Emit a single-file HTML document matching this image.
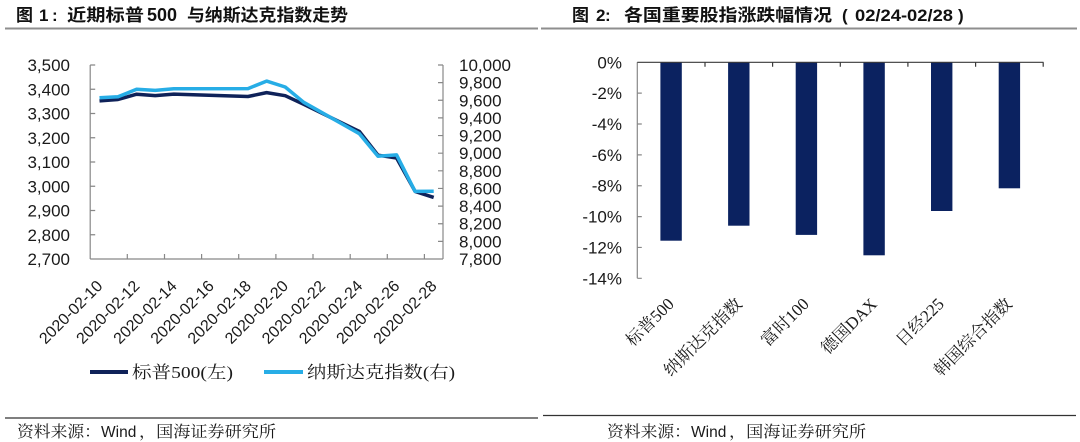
<!DOCTYPE html>
<html>
<head>
<meta charset="utf-8">
<style>
html,body{margin:0;padding:0;background:#fff;}
svg{display:block;}
.num{font-family:"Liberation Sans",Arial,sans-serif;fill:#1a1a1a;}
.ttl{font-family:"Liberation Sans","Noto Sans CJK SC",sans-serif;font-weight:bold;fill:#111;}
.ser{font-family:"Liberation Serif","Noto Serif CJK SC",serif;fill:#1a1a1a;}
</style>
</head>
<body>
<svg width="1080" height="442" viewBox="0 0 1080 442" xmlns="http://www.w3.org/2000/svg">
<rect width="1080" height="442" fill="#fff"/>

<!-- ===== Titles ===== -->
<g class="ttl" font-size="17">
  <text x="16" y="21">图</text>
  <text x="39" y="21" font-family="Liberation Sans">1</text>
  <text x="52" y="21" font-family="Liberation Sans">:</text>
  <text x="67" y="21" textLength="77" lengthAdjust="spacingAndGlyphs">近期标普</text>
  <text x="147" y="21" font-family="Liberation Sans" font-size="18">500</text>
  <text x="187" y="21" textLength="161" lengthAdjust="spacingAndGlyphs">与纳斯达克指数走势</text>

  <text x="572" y="21">图</text>
  <text x="596" y="21" font-family="Liberation Sans">2</text>
  <text x="605" y="21" font-family="Liberation Sans">:</text>
  <text x="624" y="21" textLength="208" lengthAdjust="spacingAndGlyphs">各国重要股指涨跌幅情况</text>
  <text x="842" y="21" font-family="Liberation Sans">(</text>
  <text x="855" y="21" font-family="Liberation Sans" textLength="98" lengthAdjust="spacingAndGlyphs">02/24-02/28</text>
  <text x="958" y="21" font-family="Liberation Sans">)</text>
</g>
<line x1="5" y1="28.5" x2="538" y2="28.5" stroke="#8e8e8e" stroke-width="2"/>
<line x1="541" y1="28.5" x2="1077" y2="28.5" stroke="#8e8e8e" stroke-width="2"/>

<!-- ===== Left chart ===== -->
<g stroke="#888" stroke-width="1.2" fill="none">
  <line x1="90.2" y1="65" x2="90.2" y2="259"/>
  <line x1="443" y1="65" x2="443" y2="259"/>
  <line x1="90.2" y1="259" x2="443" y2="259"/>
  <path d="M90.2 65h5M90.2 89.25h5M90.2 113.5h5M90.2 137.75h5M90.2 162h5M90.2 186.25h5M90.2 210.5h5M90.2 234.75h5"/>
  <path d="M443 65h-5M443 82.64h-5M443 100.27h-5M443 117.91h-5M443 135.55h-5M443 153.18h-5M443 170.82h-5M443 188.45h-5M443 206.09h-5M443 223.73h-5M443 241.36h-5"/>
  <path d="M127.3 259v-5M164.5 259v-5M201.6 259v-5M238.7 259v-5M275.9 259v-5M313 259v-5M350.2 259v-5M387.3 259v-5M424.4 259v-5"/>
</g>

<g class="num" font-size="17" text-anchor="end">
  <text x="70" y="71">3,500</text>
  <text x="70" y="95.25">3,400</text>
  <text x="70" y="119.5">3,300</text>
  <text x="70" y="143.75">3,200</text>
  <text x="70" y="168">3,100</text>
  <text x="70" y="192.25">3,000</text>
  <text x="70" y="216.5">2,900</text>
  <text x="70" y="240.75">2,800</text>
  <text x="70" y="265">2,700</text>
</g>
<g class="num" font-size="17">
  <text x="459" y="71">10,000</text>
  <text x="459" y="88.64">9,800</text>
  <text x="459" y="106.27">9,600</text>
  <text x="459" y="123.91">9,400</text>
  <text x="459" y="141.55">9,200</text>
  <text x="459" y="159.18">9,000</text>
  <text x="459" y="176.82">8,800</text>
  <text x="459" y="194.45">8,600</text>
  <text x="459" y="212.09">8,400</text>
  <text x="459" y="229.73">8,200</text>
  <text x="459" y="247.36">8,000</text>
  <text x="459" y="265">7,800</text>
</g>

<g class="num" font-size="16" text-anchor="end">
  <text transform="translate(103.5,287) rotate(-45)">2020-02-10</text>
  <text transform="translate(140.6,287) rotate(-45)">2020-02-12</text>
  <text transform="translate(177.8,287) rotate(-45)">2020-02-14</text>
  <text transform="translate(214.9,287) rotate(-45)">2020-02-16</text>
  <text transform="translate(252.0,287) rotate(-45)">2020-02-18</text>
  <text transform="translate(289.2,287) rotate(-45)">2020-02-20</text>
  <text transform="translate(326.3,287) rotate(-45)">2020-02-22</text>
  <text transform="translate(363.4,287) rotate(-45)">2020-02-24</text>
  <text transform="translate(400.6,287) rotate(-45)">2020-02-26</text>
  <text transform="translate(437.7,287) rotate(-45)">2020-02-28</text>
</g>

<polyline fill="none" stroke="#0f2259" stroke-width="3.5" stroke-linejoin="round"
  points="99.5,100.9 118.0,99.5 136.6,94.2 155.2,95.6 173.8,94.1 248.0,96.5 266.6,92.6 285.2,95.7 303.7,104.3 359.4,131.5 378.0,155.2 396.6,158.0 415.1,191.4 433.7,197.4"/>
<polyline fill="none" stroke="#27ade6" stroke-width="3.5" stroke-linejoin="round"
  points="99.5,97.8 118.0,96.8 136.6,89.2 155.2,90.4 173.8,88.7 248.0,88.6 266.6,81.1 285.2,87.0 303.7,102.3 359.4,133.7 378.0,156.2 396.6,154.9 415.1,191.4 433.7,191.3"/>

<!-- legend -->
<line x1="90" y1="372" x2="128" y2="372" stroke="#0f2259" stroke-width="4"/>
<text class="ser" x="132" y="378" font-size="17" textLength="101" lengthAdjust="spacingAndGlyphs">标普500(左)</text>
<line x1="264" y1="372" x2="303" y2="372" stroke="#27ade6" stroke-width="4"/>
<text class="ser" x="307" y="378" font-size="17" textLength="148" lengthAdjust="spacingAndGlyphs">纳斯达克指数(右)</text>

<!-- ===== Right chart ===== -->
<g fill="#0b2260">
  <rect x="660.4" y="62.3" width="21.4" height="178.4"/>
  <rect x="728.1" y="62.3" width="21.4" height="163.4"/>
  <rect x="795.7" y="62.3" width="21.4" height="172.6"/>
  <rect x="863.4" y="62.3" width="21.4" height="193.0"/>
  <rect x="931.0" y="62.3" width="21.4" height="148.7"/>
  <rect x="998.7" y="62.3" width="21.4" height="126.0"/>
</g>
<g stroke="#888" stroke-width="1.2" fill="none">
  <line x1="637.3" y1="62.3" x2="637.3" y2="278.3"/>
  <path d="M637.3 93.16h4.5M637.3 124.02h4.5M637.3 154.88h4.5M637.3 185.74h4.5M637.3 216.6h4.5M637.3 247.46h4.5M637.3 278.3h4.5"/>
</g>
<g stroke="#3a3a3a" stroke-width="1.2" fill="none">
  <line x1="637.3" y1="62.3" x2="1043.5" y2="62.3"/>
  <path d="M705 62.3v4.5M772.6 62.3v4.5M840.3 62.3v4.5M907.9 62.3v4.5M975.6 62.3v4.5M1043.2 62.3v4.5"/>
</g>
<g class="num" font-size="17" text-anchor="end">
  <text x="622" y="68.3">0%</text>
  <text x="622" y="99.16">-2%</text>
  <text x="622" y="130.02">-4%</text>
  <text x="622" y="160.88">-6%</text>
  <text x="622" y="191.74">-8%</text>
  <text x="622" y="222.6">-10%</text>
  <text x="622" y="253.46">-12%</text>
  <text x="622" y="284.3">-14%</text>
</g>
<g class="ser" font-size="17" text-anchor="end">
  <text transform="translate(675,305) rotate(-45)">标普500</text>
  <text transform="translate(743,305) rotate(-45)">纳斯达克指数</text>
  <text transform="translate(810,305) rotate(-45)">富时100</text>
  <text transform="translate(878,305) rotate(-45)">德国DAX</text>
  <text transform="translate(945,305) rotate(-45)">日经225</text>
  <text transform="translate(1013,305) rotate(-45)">韩国综合指数</text>
</g>

<!-- ===== Footers ===== -->
<line x1="5" y1="418" x2="538" y2="418" stroke="#333" stroke-width="1.2"/>
<line x1="543" y1="415.5" x2="1076" y2="415.5" stroke="#333" stroke-width="1.2"/>
<g font-size="16">
  <text class="ser" x="17" y="437" textLength="84" lengthAdjust="spacingAndGlyphs">资料来源：</text>
  <text class="num" x="101" y="437" font-size="15.5">Wind</text>
  <text class="ser" x="139" y="437" textLength="137" lengthAdjust="spacingAndGlyphs">，国海证券研究所</text>

  <text class="ser" x="607" y="437" textLength="84" lengthAdjust="spacingAndGlyphs">资料来源：</text>
  <text class="num" x="691" y="437" font-size="15.5">Wind</text>
  <text class="ser" x="729" y="437" textLength="137" lengthAdjust="spacingAndGlyphs">，国海证券研究所</text>
</g>
</svg>
</body>
</html>
